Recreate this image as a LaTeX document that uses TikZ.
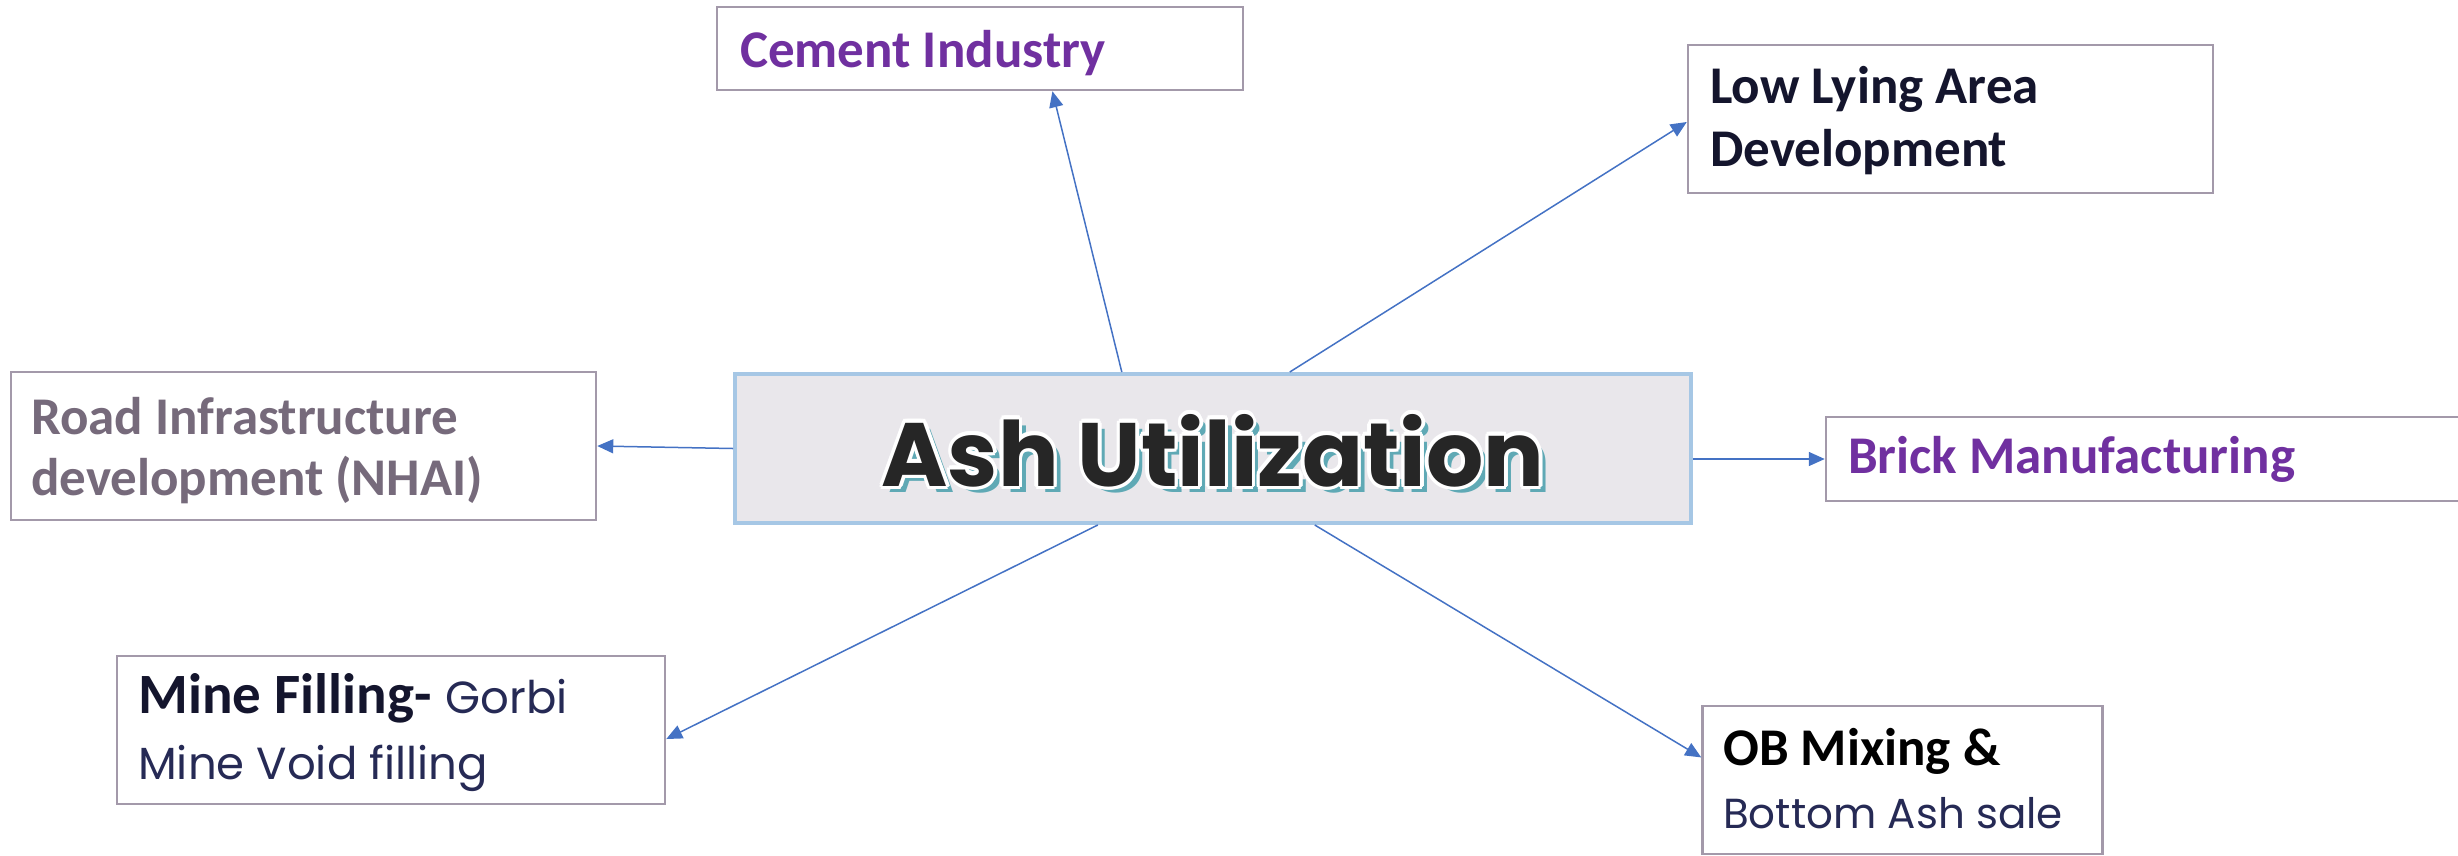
\documentclass[tikz,border=0pt]{standalone}
\usepackage{fontspec}
\setmainfont{Carlito}
\newfontfamily\geofont{Poppins}
\usetikzlibrary{arrows.meta,calc}

\definecolor{boxgray}{HTML}{A399AA}
\definecolor{hubblue}{HTML}{A6C7E5}
\definecolor{hubfill}{HTML}{E9E7EB}
\definecolor{linkblue}{HTML}{4472C4}
\definecolor{plum}{HTML}{7030A0}
\definecolor{inknavy}{HTML}{14152D}
\definecolor{roadgray}{HTML}{766A7B}
\definecolor{geonavy}{HTML}{262A55}
\definecolor{shadowteal}{HTML}{5FA9B5}
\definecolor{titleink}{HTML}{262626}

% ring of offset copies behind a word, giving the title its white outline
\newcommand\glyphhalo[3]{%
  \foreach \hangle in {0,30,...,330}{%
    \pgfmathsetlengthmacro\hdx{#1*cos(\hangle)}%
    \pgfmathsetlengthmacro\hdy{#1*sin(\hangle)}%
    \rlap{\hspace*{\hdx}\raisebox{\hdy}{\textcolor{#2}{#3}}}%
  }%
}
\newcommand\titleword{Ash Utilization}

\begin{document}
\begin{tikzpicture}[x=1pt,y=-1pt,
  box/.style={draw=boxgray, line width=2.5pt, fill=white, inner sep=0pt, rectangle},
  hub/.style={draw=hubblue, line width=4pt, fill=hubfill, inner sep=0pt,
              minimum width=956pt, minimum height=149pt},
  lbl/.style={anchor=base west, inner sep=0pt, font=\fontsize{53}{63}\selectfont\bfseries},
  geo/.style={anchor=base west, inner sep=0pt, font=\geofont\fontsize{45}{60}\selectfont, text=geonavy},
  link/.style={draw=linkblue, line width=1.5pt, -{Triangle[length=16pt,width=14pt]}}]
\useasboundingbox (0,0) rectangle (2458,855);

% central hub
\node[hub] (ash) at (1213,448.5) {};
\node[inner sep=0pt, anchor=base] (title) at (1213,486)
  {\geofont\bfseries\fontsize{90}{100}\selectfont
   \rlap{\hspace*{7pt}\raisebox{-6pt}{\textcolor{shadowteal}{\titleword}}}%
   \glyphhalo{3.5pt}{white}{\titleword}%
   \textcolor{titleink}{\titleword}};

% uses around the hub
\node[box, minimum width=526pt, minimum height=83pt] (cement) at (980,48.5) {};
\node[lbl, text=plum] (cementtxt) at (740,67) {Cement Industry};

\node[box, minimum width=525pt, minimum height=148pt] (low) at (1950.5,119) {};
\node[lbl, text=inknavy] (lowtxta) at (1710,103) {Low Lying Area};
\node[lbl, text=inknavy] (lowtxtb) at (1710,166) {Development};

\node[box, minimum width=585pt, minimum height=148pt] (road) at (303.5,446) {};
\node[lbl, text=roadgray] (roadtxta) at (31,434) {Road Infrastructure};
\node[lbl, text=roadgray] (roadtxtb) at (31,495) {development (NHAI)};

\node[box, minimum width=644pt, minimum height=84pt] (brick) at (2148,459) {};
\node[lbl, text=plum] (bricktxt) at (1848,473) {Brick Manufacturing};

\node[box, minimum width=548pt, minimum height=148pt] (mine) at (391,730) {};
\node[lbl, text=inknavy, font=\fontsize{57}{63}\selectfont\bfseries] (minetxta) at (138,713)
  {Mine Filling-\hspace{14pt}{\geofont\mdseries\fontsize{45}{60}\selectfont\color{geonavy}Gorbi}};
\node[geo] (minetxtb) at (138,779) {Mine Void filling};

\node[box, minimum width=400pt, minimum height=148pt] (ob) at (1902.5,780) {};
\node[lbl, text=black] (obtxta) at (1723,765) {OB Mixing \&};
\node[geo, font=\geofont\fontsize{42}{60}\selectfont] (obtxtb) at (1723,828) {Bottom Ash sale};

% connectors
\draw[link] ($(ash.north west)!0.405!(ash.north east)$) -- ($(cement.south west)!0.637!(cement.south east)$);
\draw[link] ($(ash.north west)!0.58!(ash.north east)$) -- ($(low.north west)!0.52!(low.south west)$);
\draw[link] (ash.west) -- (road.east);
\draw[link] (ash.east |- brick.west) -- (brick.west);
\draw[link] ($(ash.south west)!0.38!(ash.south east)$) -- ($(mine.north east)!0.56!(mine.south east)$);
\draw[link] ($(ash.south west)!0.606!(ash.south east)$) -- ($(ob.north west)!0.35!(ob.south west)$);
\end{tikzpicture}
\end{document}
